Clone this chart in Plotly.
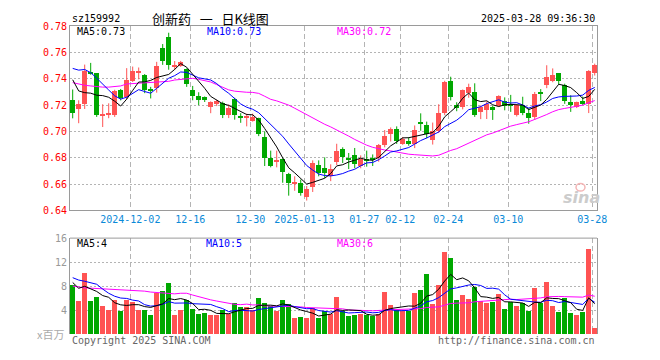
import pandas as pd
import plotly.graph_objects as go

# ---------------- data ----------------
holidays = ["2025-01-01", "2025-01-28", "2025-01-29", "2025-01-30", "2025-01-31",
            "2025-02-03", "2025-02-04"]
trade_days = [d for d in pd.bdate_range("2024-11-18", "2025-03-28").strftime("%Y-%m-%d")
              if d not in holidays]

open_ = [0.7238, 0.7172, 0.7206, 0.7450, 0.7440, 0.7120, 0.7130, 0.7128, 0.7316, 0.7262,
         0.7382, 0.7445, 0.7426, 0.7323, 0.7330, 0.7632, 0.7720, 0.7494, 0.7497, 0.7475,
         0.7316, 0.7265, 0.7260, 0.7187, 0.7211, 0.7219, 0.7121, 0.7248, 0.7118, 0.7105,
         0.7080, 0.7099, 0.6957, 0.6798, 0.6772, 0.6788, 0.6678, 0.6602, 0.6605, 0.6505,
         0.6575, 0.6744, 0.6724, 0.6659, 0.6764, 0.6867, 0.6795, 0.6823, 0.6737, 0.6790,
         0.6798, 0.6801, 0.6898, 0.6981, 0.7021, 0.6908, 0.6928, 0.6904, 0.7068, 0.7045,
         0.6935, 0.7001, 0.7140, 0.7380, 0.7204, 0.7184, 0.7289, 0.7299, 0.7148, 0.7163,
         0.7184, 0.7190, 0.7233, 0.7207, 0.7128, 0.7203, 0.7140, 0.7111, 0.7301, 0.7355,
         0.7380, 0.7441, 0.7355, 0.7226, 0.7184, 0.7233, 0.7209, 0.7446]
high = [0.7318, 0.7236, 0.7507, 0.7520, 0.7440, 0.7206, 0.7213, 0.7316, 0.7322, 0.7480,
        0.7492, 0.7485, 0.7435, 0.7338, 0.7528, 0.7663, 0.7749, 0.7534, 0.7535, 0.7478,
        0.7345, 0.7297, 0.7265, 0.7228, 0.7240, 0.7226, 0.7204, 0.7255, 0.7138, 0.7135,
        0.7135, 0.7104, 0.7001, 0.6854, 0.6854, 0.6795, 0.6685, 0.6659, 0.6634, 0.6585,
        0.6780, 0.6780, 0.6803, 0.6750, 0.6906, 0.6879, 0.6836, 0.6874, 0.6818, 0.6854,
        0.6825, 0.6904, 0.7010, 0.7030, 0.7038, 0.6957, 0.6955, 0.7045, 0.7137, 0.7074,
        0.7067, 0.7206, 0.7384, 0.7415, 0.7221, 0.7318, 0.7362, 0.7365, 0.7197, 0.7228,
        0.7197, 0.7274, 0.7258, 0.7277, 0.7205, 0.7263, 0.7177, 0.7299, 0.7321, 0.7502,
        0.7478, 0.7441, 0.7362, 0.7274, 0.7226, 0.7264, 0.7465, 0.7514]
low = [0.7099, 0.7062, 0.7170, 0.7430, 0.7110, 0.7033, 0.7100, 0.7110, 0.7235, 0.7245,
       0.7375, 0.7395, 0.7290, 0.7250, 0.7294, 0.7505, 0.7468, 0.7468, 0.7490, 0.7338,
       0.7236, 0.7199, 0.7223, 0.7138, 0.7192, 0.7101, 0.7101, 0.7089, 0.7065, 0.7038,
       0.7074, 0.6964, 0.6737, 0.6727, 0.6727, 0.6610, 0.6512, 0.6549, 0.6512, 0.6475,
       0.6540, 0.6659, 0.6646, 0.6622, 0.6745, 0.6760, 0.6714, 0.6720, 0.6720, 0.6732,
       0.6737, 0.6770, 0.6879, 0.6923, 0.6905, 0.6898, 0.6891, 0.6873, 0.7005, 0.6948,
       0.6900, 0.6989, 0.7123, 0.7235, 0.7153, 0.7167, 0.7255, 0.7110, 0.7093, 0.7094,
       0.7087, 0.7189, 0.7160, 0.7148, 0.7113, 0.7123, 0.7058, 0.7087, 0.7230, 0.7328,
       0.7373, 0.7355, 0.7209, 0.7148, 0.7177, 0.7201, 0.7139, 0.7424]
close = [0.7143, 0.7206, 0.7458, 0.7438, 0.7128, 0.7128, 0.7143, 0.7309, 0.7253, 0.7390,
         0.7459, 0.7462, 0.7316, 0.7309, 0.7500, 0.7531, 0.7505, 0.7507, 0.7530, 0.7360,
         0.7267, 0.7241, 0.7236, 0.7223, 0.7228, 0.7121, 0.7179, 0.7126, 0.7101, 0.7112,
         0.7111, 0.6981, 0.6801, 0.6739, 0.6778, 0.6695, 0.6605, 0.6608, 0.6532, 0.6560,
         0.6760, 0.6684, 0.6684, 0.6713, 0.6848, 0.6805, 0.6788, 0.6750, 0.6794, 0.6782,
         0.6790, 0.6898, 0.6964, 0.7018, 0.6928, 0.6945, 0.6904, 0.7013, 0.7062, 0.6977,
         0.7001, 0.7140, 0.7373, 0.7258, 0.7177, 0.7311, 0.7336, 0.7123, 0.7184, 0.7207,
         0.7160, 0.7268, 0.7192, 0.7199, 0.7197, 0.7140, 0.7099, 0.7282, 0.7282, 0.7412,
         0.7428, 0.7384, 0.7233, 0.7204, 0.7221, 0.7209, 0.7460, 0.7502]
volume = [8.17, 5.48, 10.2, 5.48, 6.18, 4.73, 4.03, 5.65, 3.76, 5.65,
          5.38, 4.03, 4.03, 3.12, 6.88, 7.10, 8.44, 3.12, 4.03, 5.65,
          4.19, 3.33, 3.44, 3.12, 3.12, 3.92, 3.33, 5.10, 4.46, 4.46,
          4.03, 5.91, 5.10, 4.57, 3.87, 5.65, 4.95, 2.69, 2.85, 2.58,
          4.30, 2.58, 3.76, 3.40, 6.18, 3.76, 2.96, 3.23, 3.39, 3.12,
          2.96, 3.33, 6.99, 4.84, 4.03, 3.76, 3.76, 6.83, 7.26, 10.05,
          5.00, 8.23, 13.70, 12.74, 5.65, 6.45, 5.81, 7.80, 5.48, 5.22,
          5.38, 6.61, 4.19, 5.38, 4.57, 5.10, 3.76, 7.63, 5.10, 8.60,
          4.57, 3.60, 5.91, 3.44, 3.12, 3.60, 14.09, 0.97]

# moving-average values before enough history is on the chart
ma5_head = [0.7392, 0.7307, 0.7294, 0.7290]
ma10_head = [0.7478, 0.7465, 0.7470, 0.7446, 0.7404, 0.7355, 0.7314, 0.7270, 0.7245]
ma30_head = [0.7370, 0.7358, 0.7350, 0.7345, 0.7338, 0.7336, 0.7336, 0.7340, 0.7345, 0.7360,
             0.7363, 0.7366, 0.7368, 0.7370, 0.7370, 0.7375, 0.7380, 0.7390, 0.7395, 0.7402,
             0.7403, 0.7395, 0.7385, 0.7375, 0.7355, 0.7335, 0.7315, 0.7305, 0.7300]
vma5_head = [8.6, 7.63, 7.96, 7.5]
vma10_head = [9.4, 9.0, 8.8, 8.6, 8.3, 7.5, 6.8, 6.3, 6.0]
vma30_head = [8.0, 7.8, 7.7, 7.65, 7.6, 7.58, 7.53, 7.5, 7.45, 7.42,
              7.35, 7.27, 7.15, 7.0, 6.9, 6.8, 6.7, 6.7, 6.8, 6.8,
              6.5, 6.2, 6.0, 5.7, 5.5, 5.3, 5.1, 4.95, 4.9]

tick_dates = ["2024-12-02", "2024-12-16", "2024-12-30", "2025-01-13", "2025-01-27",
              "2025-02-12", "2025-02-24", "2025-03-10", "2025-03-28"]
tick_text = ["2024-12-02", "12-16", "12-30", "2025-01-13", "01-27",
             "02-12", "02-24", "03-10", "03-28"]
price_ticks = [0.64, 0.66, 0.68, 0.70, 0.72, 0.74, 0.76, 0.78]
price_ticktext = ["0.64", "0.66", "0.68", "0.70", "0.72", "0.74", "0.76", "0.78"]
vol_ticks = [4, 8, 12, 16]


def moving_avg(series, n, head):
    out = []
    for i in range(len(series)):
        if i < n - 1:
            out.append(head[i])
        else:
            out.append(sum(series[i - n + 1:i + 1]) / n)
    return out


# ---------------- geometry (page has an 8px body margin) ----------------
OFF = 8
W_FIG, H_FIG = 644, 344
ML, MR, MT, MB = 62, 55, 13, 12
PLOT_L, PLOT_T = OFF + ML, OFF + MT            # 70, 21
PW, PH = W_FIG - ML - MR, H_FIG - MT - MB      # 527, 319
PLOT_B = PLOT_T + PH                           # 340


def px(x):
    return (x - PLOT_L) / PW


def py(y):
    return (PLOT_B - y) / PH


RED = "#ff5353"
GREEN = "#00a800"
GRID = "#b4b4b4"
BORDER = "#9a9a9a"
MONO = "DejaVu Sans Mono"

n = len(close)
xs = list(range(n))
up = [close[i] >= open_[i] for i in xs]

fig = go.Figure()

# wicks
for flag, col in ((True, RED), (False, GREEN)):
    wx, wy = [], []
    for i in xs:
        if up[i] == flag:
            wx += [i, i, None]
            wy += [low[i], high[i], None]
    fig.add_trace(go.Scatter(x=wx, y=wy, mode="lines", line=dict(color=col, width=1),
                             hoverinfo="skip", showlegend=False, xaxis="x", yaxis="y"))

# bodies
for flag, col in ((True, RED), (False, GREEN)):
    idx = [i for i in xs if up[i] == flag]
    fig.add_trace(go.Bar(x=idx,
                         y=[max(abs(close[i] - open_[i]), 0.0007) for i in idx],
                         base=[min(close[i], open_[i]) for i in idx],
                         width=0.8, marker=dict(color=col, line=dict(width=0)),
                         showlegend=False, xaxis="x", yaxis="y"))

# price moving averages
for ser, nn, head, col in ((close, 30, ma30_head, "#ff00ff"),
                           (close, 10, ma10_head, "#0000ff"),
                           (close, 5, ma5_head, "#000000")):
    fig.add_trace(go.Scatter(x=xs, y=moving_avg(ser, nn, head), mode="lines",
                             line=dict(color=col, width=1), showlegend=False,
                             xaxis="x", yaxis="y"))

# volume bars
fig.add_trace(go.Bar(x=xs, y=volume, width=0.8,
                     marker=dict(color=[RED if u else GREEN for u in up], line=dict(width=0)),
                     showlegend=False, xaxis="x2", yaxis="y2"))

for ser, nn, head, col in ((volume, 30, vma30_head, "#ff00ff"),
                           (volume, 10, vma10_head, "#0000ff"),
                           (volume, 5, vma5_head, "#000000")):
    fig.add_trace(go.Scatter(x=xs, y=moving_avg(ser, nn, head), mode="lines",
                             line=dict(color=col, width=1), showlegend=False,
                             xaxis="x2", yaxis="y2"))

tickpos = [trade_days.index(d) - 0.4 for d in tick_dates]
xrange_ = [-0.45, n - 1 + 0.38]

price_dom = [py(212), 1.0]
vol_dom = [0.0, py(240.7)]

fig.update_layout(
    width=W_FIG, height=H_FIG, margin=dict(l=ML, r=MR, t=MT, b=MB, pad=0),
    paper_bgcolor="white", plot_bgcolor="white",
    barmode="overlay", bargap=0, showlegend=False,
    xaxis=dict(domain=[0, 1], range=xrange_, anchor="y", tickmode="array",
               tickvals=tickpos, ticktext=tick_text, ticks="",
               tickfont=dict(family=MONO, size=10, color="#0a8ad8"),
               showgrid=True, gridcolor=GRID, griddash="5px,3px", gridwidth=1,
               showline=True, linecolor=BORDER, linewidth=1, mirror=True,
               zeroline=False, fixedrange=True),
    yaxis=dict(domain=price_dom, range=[0.64, 0.78], anchor="x", tickmode="array",
               tickvals=price_ticks, ticktext=price_ticktext, ticks="",
               tickfont=dict(family=MONO, size=10, color="#ff0000"),
               showgrid=True, gridcolor=GRID, griddash="2px,2px", gridwidth=1,
               showline=True, linecolor=BORDER, linewidth=1, mirror=True,
               zeroline=False),
    xaxis2=dict(domain=[0, 1], range=xrange_, anchor="y2", matches="x",
                tickmode="array", tickvals=tickpos, showticklabels=False, ticks="",
                showgrid=True, gridcolor=GRID, griddash="5px,3px", gridwidth=1,
                showline=False, zeroline=False),
    yaxis2=dict(domain=vol_dom, range=[0, 16], anchor="x2", tickmode="array",
                tickvals=vol_ticks, ticks="",
                tickfont=dict(family=MONO, size=10, color="#999999"),
                showgrid=True, gridcolor=GRID, griddash="2px,2px", gridwidth=1,
                showline=True, linecolor=BORDER, linewidth=1, mirror=True,
                zeroline=False),
)

# top border of volume panel
fig.add_shape(type="line", xref="paper", yref="paper", x0=0, x1=1,
              y0=py(240.7), y1=py(240.7), line=dict(color=BORDER, width=1))

ann = []


def text(x, y, s, color, size=10, family=MONO, anchor="left"):
    ann.append(dict(x=px(x), y=py(y), xref="paper", yref="paper", text=s,
                    showarrow=False, xanchor=anchor, yanchor="middle",
                    font=dict(family=family, size=size, color=color)))


NB = "\u00a0"
text(69.5, 13, "sz159992", "#000000")
text(150, 13, "创新药" + NB * 3 + "一" + NB * 3 + "日K线图", "#000000", size=13,
     family="Noto Sans CJK SC")
text(597, 13, "2025-03-28 09:36:30", "#000000", anchor="right")
text(75, 26.5, "MA5:0.73", "#000000")
text(205, 26.5, "MA10:0.73", "#0000ff")
text(335, 26.5, "MA30:0.72", "#ff00ff")
text(75, 246.5, "MA5:4", "#000000")
text(204, 246.5, "MA10:5", "#0000ff")
text(335, 246.5, "MA30:6", "#ff00ff")
text(66, 340, "x百万", "#aaaaaa", size=11, family="Noto Sans CJK SC", anchor="right")
text(70, 346.5, "Copyright 2025 SINA.COM", "#666666")
text(597, 346.5, "http://finance.sina.com.cn", "#666666", anchor="right")
text(581, 199, "<b><i>sina</i></b>", "#cccccc", size=16, family="DejaVu Sans", anchor="center")
fig.update_layout(annotations=ann)
fig.add_shape(type="circle", xref="paper", yref="paper",
              x0=px(576), x1=px(585), y0=py(192), y1=py(184),
              line=dict(color="#f4b6b6", width=1.5))

fig.write_html("out.html")
